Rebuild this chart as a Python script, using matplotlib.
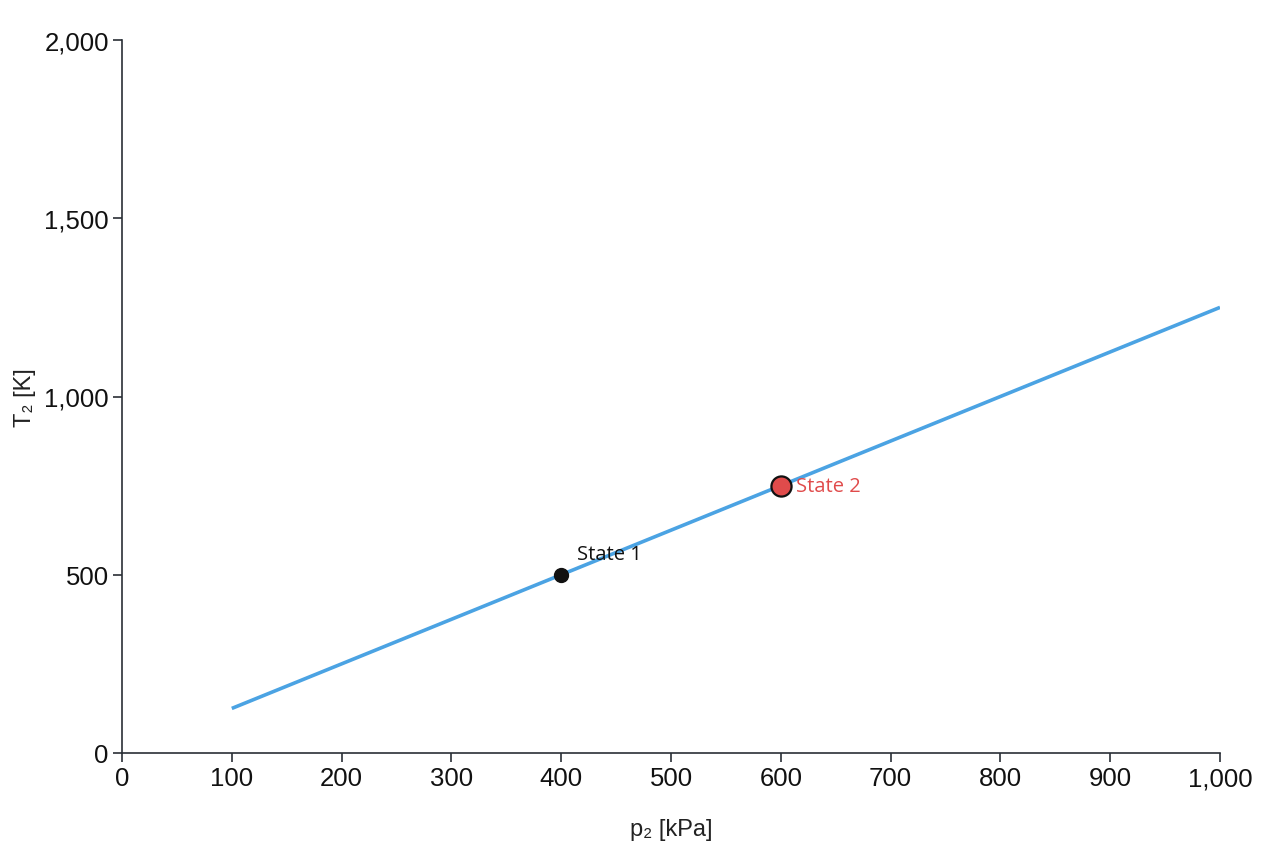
import matplotlib
matplotlib.use("Agg")
import matplotlib.pyplot as plt
from matplotlib.ticker import FuncFormatter

# Data
line_p = [100, 1000]          # kPa
line_T = [125, 1250]          # K
state_names = ["State 1", "State 2"]
state_p = [400, 600]
state_T = [500, 750]

x_ticks = [0, 100, 200, 300, 400, 500, 600, 700, 800, 900, 1000]
y_ticks = [0, 500, 1000, 1500, 2000]

W, H = 1272, 853
fig = plt.figure(figsize=(W / 100, H / 100), dpi=100)
ax = fig.add_axes([122 / W, (H - 754) / H, (1220 - 122) / W, (754 - 41) / H])

ax.plot(line_p, line_T, color="#4ba3e3", lw=2.6, solid_capstyle="butt", zorder=2)
ax.plot(state_p[0], state_T[0], "o", ms=10, color="#111111", mec="#111111", zorder=3)
ax.plot(state_p[1], state_T[1], "o", ms=14.5, color="#e04b4b", mec="#111111", mew=1.6, zorder=3)

lab_font = ["Open Sans", "DejaVu Sans"]
ax.annotate(state_names[0], (state_p[0], state_T[0]), xytext=(11.5, 15), textcoords="offset points",
            fontsize=14.5, family=lab_font, color="#111111", va="center", ha="left")
ax.annotate(state_names[1], (state_p[1], state_T[1]), xytext=(11, 0), textcoords="offset points",
            fontsize=14.5, family=lab_font, color="#e04b4b", va="center", ha="left")

ax.set_xlim(0, 1000)
ax.set_ylim(0, 2000)
ax.set_xticks(x_ticks)
ax.set_yticks(y_ticks)
fmt = FuncFormatter(lambda v, pos: f"{int(v):,}")
ax.xaxis.set_major_formatter(fmt)
ax.yaxis.set_major_formatter(fmt)

for s in ["top", "right"]:
    ax.spines[s].set_visible(False)
for s in ["left", "bottom"]:
    ax.spines[s].set_color("#2a2f36")
    ax.spines[s].set_linewidth(1.2)
ax.tick_params(axis="both", direction="out", length=6.5, width=1.2, color="#2a2f36",
               labelsize=18.5, labelcolor="#111111", pad=3)
for t in ax.get_xticklabels() + ax.get_yticklabels():
    t.set_family(["Liberation Sans", "DejaVu Sans"])

ax.set_xlabel("p₂ [kPa]", fontsize=17, family=["Liberation Sans", "DejaVu Sans"],
              color="#222222", labelpad=20)
ax.set_ylabel("T₂ [K]", fontsize=17, family=["Liberation Sans", "DejaVu Sans"],
              color="#222222", labelpad=6)

fig.savefig("out.png", dpi=100)
